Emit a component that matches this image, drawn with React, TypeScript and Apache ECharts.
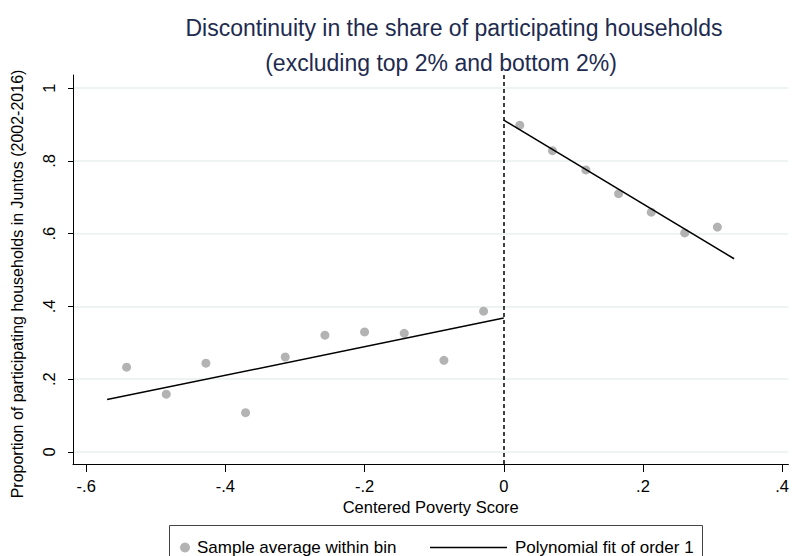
import React, { useEffect, useRef } from "react";
import * as echarts from "echarts";

const binX = [-0.542, -0.485, -0.428, -0.371, -0.314, -0.257, -0.2, -0.143, -0.086, -0.029, 0.023, 0.07, 0.118, 0.165, 0.212, 0.26, 0.307];
const binY = [0.233, 0.159, 0.244, 0.108, 0.261, 0.321, 0.33, 0.326, 0.252, 0.387, 0.898, 0.828, 0.775, 0.71, 0.659, 0.602, 0.618];
const leftFitX = [-0.57, 0];
const leftFitY = [0.144, 0.368];
const rightFitX = [0, 0.331];
const rightFitY = [0.912, 0.531];
const xTicks = [-0.6, -0.4, -0.2, 0, 0.2, 0.4];
const yTicks = [0, 0.2, 0.4, 0.6, 0.8, 1];
const cutoff = 0;

const titleLine1 = "Discontinuity in the share of participating households";
const titleLine2 = "(excluding top 2% and bottom 2%)";
const xName = "Centered Poverty Score";
const yName = "Proportion of participating households in Juntos (2002-2016)";
const scatterName = "Sample average within bin";
const fitName = "Polynomial fit of order 1";

const stataFmt = (v: number) => {
  const r = Math.round(v * 10) / 10;
  if (r === 0) return "0";
  if (r === 1) return "1";
  const s = String(r);
  return s.replace("0.", ".");
};

const FONT = "Liberation Sans, Arial, sans-serif";

export default function App() {
  const ref = useRef<HTMLDivElement>(null);
  useEffect(() => {
    if (!ref.current) return;
    const chart = echarts.init(ref.current, null, { renderer: "svg" });
    chart.setOption({
      animation: false,
      backgroundColor: "#ffffff",
      textStyle: { fontFamily: FONT },
      title: [
        {
          text: titleLine1,
          left: 449,
          top: 11,
          textAlign: "center",
          textStyle: { color: "#1e2b4f", fontSize: 23, fontWeight: "normal", fontFamily: FONT },
        },
        {
          text: titleLine2,
          left: 436,
          top: 46,
          textAlign: "center",
          textStyle: { color: "#1e2b4f", fontSize: 23, fontWeight: "normal", fontFamily: FONT },
        },
      ],
      grid: { left: 73, right: 2, top: 75, bottom: 92, containLabel: false },
      xAxis: {
        type: "value",
        min: -0.619,
        max: 0.409,
        name: xName,
        nameLocation: "middle",
        nameGap: 32,
        nameTextStyle: { color: "#000", fontSize: 16.5, fontFamily: FONT },
        axisLine: { show: true, onZero: false, lineStyle: { color: "#000", width: 1 } },
        axisTick: { show: true, length: 8, customValues: xTicks, lineStyle: { color: "#000" } },
        axisLabel: { customValues: xTicks, formatter: stataFmt, color: "#000", fontSize: 16.5, margin: 13, fontFamily: FONT },
        splitLine: { show: false },
      },
      yAxis: {
        type: "value",
        min: -0.033,
        max: 1.036,
        axisLine: { show: true, onZero: false, lineStyle: { color: "#000", width: 1 } },
        axisTick: { show: true, length: 5, customValues: yTicks, lineStyle: { color: "#000" } },
        axisLabel: { customValues: yTicks, formatter: stataFmt, rotate: 90, color: "#000", fontSize: 16.5, margin: 16, fontFamily: FONT },
        splitLine: { show: true, lineStyle: { color: "#e8f0f1", width: 1.5 } },
      },
      legend: [
        {
          data: [{ name: scatterName, icon: "circle" }],
          left: 175,
          top: 534,
          itemWidth: 10,
          itemHeight: 10,
          textStyle: { color: "#000", fontSize: 17, fontFamily: FONT, padding: [0, 0, 0, 2] },
        },
        {
          data: [{ name: fitName, icon: "rect" }],
          left: 425,
          top: 534,
          itemWidth: 77,
          itemHeight: 1.5,
          textStyle: { color: "#000", fontSize: 17, fontFamily: FONT, padding: [0, 0, 0, 3] },
        },
      ],
      graphic: [
        {
          type: "rect",
          shape: { x: 169.5, y: 525.5, width: 533, height: 40 },
          style: { fill: "none", stroke: "#444", lineWidth: 1 },
          z: -1,
        },
        {
          type: "text",
          x: 17,
          y: 284,
          rotation: Math.PI / 2,
          style: {
            text: yName,
            fill: "#000",
            fontSize: 16,
            fontFamily: FONT,
            align: "center",
            verticalAlign: "middle",
          },
        },
      ],
      series: [
        {
          name: scatterName,
          type: "scatter",
          data: binX.map((x, i) => [x, binY[i]]),
          symbol: "circle",
          symbolSize: 9,
          itemStyle: { color: "#a0a0a0" },
          z: 3,
        },
        {
          name: fitName,
          type: "line",
          data: leftFitX.map((x, i) => [x, leftFitY[i]]),
          symbol: "none",
          lineStyle: { color: "#000", width: 1.5 },
          itemStyle: { color: "#000" },
          z: 4,
        },
        {
          name: fitName,
          type: "line",
          data: rightFitX.map((x, i) => [x, rightFitY[i]]),
          symbol: "none",
          lineStyle: { color: "#000", width: 1.5 },
          itemStyle: { color: "#000" },
          z: 4,
          markLine: {
            silent: true,
            symbol: "none",
            label: { show: false },
            lineStyle: { color: "#000", type: [4, 3], width: 1.5 },
            data: [{ xAxis: cutoff }],
          },
        },
      ],
    });
    return () => chart.dispose();
  }, []);
  return <div ref={ref} style={{ width: 792, height: 556, position: "absolute", left: 0, top: 0 }} />;
}
